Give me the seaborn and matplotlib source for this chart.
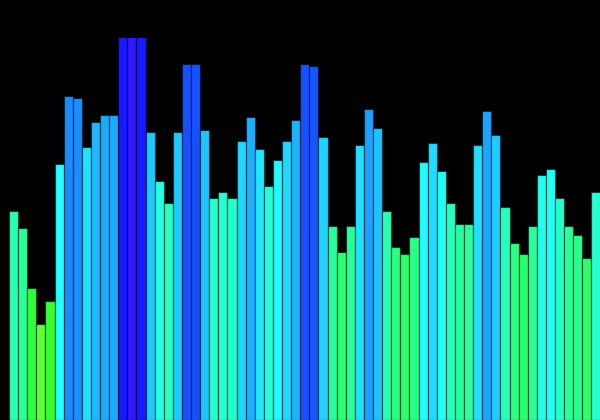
import numpy as np
import pandas as pd
import seaborn as sns
import matplotlib
matplotlib.use("Agg")
import matplotlib.pyplot as plt
from matplotlib.colors import hsv_to_rgb

# bar heights (top of axes = 382)
heights = [209, 192, 132, 96, 119, 256, 324, 322, 273, 298,
           305, 305, 388, 405, 388, 288, 239, 217, 288, 356,
           356, 290, 222, 228, 222, 279, 303, 271, 234, 260,
           279, 300, 356, 354, 283, 194, 168, 194, 275, 311,
           292, 209, 173, 166, 183, 258, 277, 249, 217, 196,
           196, 275, 309, 285, 213, 177, 166, 194, 245, 251,
           222, 194, 185, 162, 228]
bar_ids = [str(i) for i in range(len(heights))]

df = pd.DataFrame({"bar": bar_ids, "value": heights})

# colour follows height: hue from yellow-green up to violet
h = np.array(heights, dtype=float)
hue = (108 + 0.45 * (h - 96)) / 360
sat = 0.8 + 0.11 * np.clip((h - 96) / 260, 0, 1)
cols = hsv_to_rgb(np.column_stack([hue, sat, np.ones_like(h)]))
palette = [tuple(c) for c in cols]

fig = plt.figure(figsize=(6, 4.2), dpi=100, facecolor="black")
ax = fig.add_axes([0, 0, 1, 382 / 420])
ax.set_facecolor("black")

sns.barplot(data=df, x="bar", y="value", hue="bar", palette=palette,
            saturation=1, legend=False, width=1,
            edgecolor=(0, 0, 0, 0.45), linewidth=0.9, ax=ax)

ax.set_xlim(-1.49, 64.44)
ax.set_ylim(0, 382)
ax.axis("off")

fig.savefig("out.png", facecolor="black")
